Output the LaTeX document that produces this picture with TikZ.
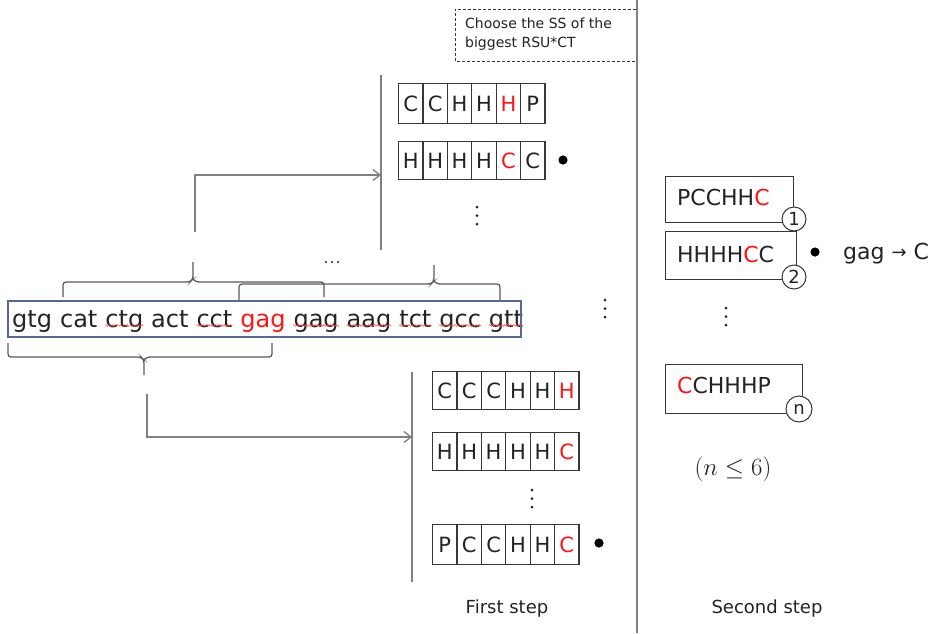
\documentclass[tikz,border=0pt]{standalone}
\usepackage{fontspec}
\setmainfont{DejaVu Sans}
\usetikzlibrary{arrows.meta,decorations.pathmorphing}
\definecolor{lineg}{RGB}{128,128,128}
\definecolor{braceg}{RGB}{90,90,90}
\definecolor{boxk}{RGB}{55,55,55}
\definecolor{seqblue}{RGB}{85,105,150}
\definecolor{txt}{RGB}{35,35,35}
\definecolor{redt}{RGB}{255,20,20}
\newcommand\fsz[1]{\fontsize{#1}{#1}\selectfont}
\newcommand\cellrow[5]{%
  \foreach \l [count=\i] in {#5} {
    \node[cell, minimum height=#4, anchor=north west] (#1c\i) at ({#2+(\i-1)*24.4},#3) {\l};
  }}
\newcommand\vdotsat[2]{\fill[txt] (#1,#2) circle (1.5) (#1,{#2+8.5}) circle (1.5) (#1,{#2+17}) circle (1.5);}
\tikzset{
  cell/.style={draw=boxk, line width=1.2pt, minimum width=24.4pt, inner sep=0pt, text=txt, font=\fsz{21}},
  seqword/.style={inner sep=0pt, anchor=base west, text=txt, font=\fsz{24}},
  sbox/.style={draw=boxk, line width=1.1pt, inner sep=0pt, anchor=north west},
  stext/.style={inner sep=0pt, anchor=base west, text=txt, font=\fsz{22}},
  circ/.style={circle, draw=boxk, line width=1pt, fill=white, minimum size=24pt, inner sep=0pt, text=txt, font=\fsz{18}},
  connector/.style={draw=lineg, line width=1.3pt, -{Straight Barb[length=7pt,width=11pt]}},
  vbar/.style={draw=lineg, line width=1.3pt},
  bracestyle/.style={draw=braceg, line width=1.3pt, rounded corners=3pt},
  squig/.style={draw=redt!80, line width=0.5pt, decorate, decoration={snake, amplitude=0.9pt, segment length=3pt}},
  bullet/.style={fill=black},
  steplabel/.style={inner sep=0pt, text=txt, font=\fsz{18}}
}
\begin{document}
\begin{tikzpicture}[x=1pt,y=-1pt]
\useasboundingbox (0,0) rectangle (946,633);
\fill[white] (0,0) rectangle (946,633);

% divider and dashed note
\coordinate (divtop) at (637,0);
\coordinate (divbot) at (637,633);
\draw[vbar] (divtop) -- (divbot);
\draw[boxk, line width=1pt, dash pattern=on 3pt off 2pt] (636,9) -- (455,9) -- (455,61) -- (636,61);
\node[inner sep=0pt, anchor=base west, text=txt, font=\fsz{14}, align=left] (note1) at (465,28) {Choose the SS of the};
\node[inner sep=0pt, anchor=base west, text=txt, font=\fsz{14}] (note2) at (465,47) {biggest RSU*CT};

% sequence
\node[seqword] (w1) at (12,327) {gtg};
\node[seqword] (w2) at ([xshift=7.6pt]w1.base east) {cat};
\node[seqword] (w3) at ([xshift=7.6pt]w2.base east) {ctg};
\node[seqword] (w4) at ([xshift=7.6pt]w3.base east) {act};
\node[seqword] (w5) at ([xshift=7.6pt]w4.base east) {cct};
\node[seqword, text=redt] (w6) at ([xshift=7.6pt]w5.base east) {gag};
\node[seqword] (w7) at ([xshift=7.6pt]w6.base east) {gag};
\node[seqword] (w8) at ([xshift=7.6pt]w7.base east) {aag};
\node[seqword] (w9) at ([xshift=7.6pt]w8.base east) {tct};
\node[seqword] (w10) at ([xshift=7.6pt]w9.base east) {gcc};
\node[seqword] (w11) at ([xshift=7.6pt]w10.base east) {gtt};
\draw[seqblue, line width=1.1pt] (8,301) rectangle (521,337);
\foreach \w in {w3,w5,w7,w8,w9,w10,w11}
  \draw[squig] ([yshift=1.5pt]\w.base west) -- ([yshift=1.5pt]\w.base east);

% braces
\draw[bracestyle] (63,297) -- (63,282) -- (190,282) -- (193,279) -- (193,262);
\draw[bracestyle] (193,279) -- (196,282) -- (324,282) -- (324,297);
\draw[bracestyle] (239,300) -- (239,284) -- (431,284) -- (434,281) -- (434,265);
\draw[bracestyle] (434,281) -- (437,284) -- (500,284) -- (500,300);
\draw[bracestyle] (8,343) -- (8,357) -- (141,357) -- (144,360) -- (144,375);
\draw[bracestyle] (144,360) -- (147,357) -- (272,357) -- (272,343);
\fill[txt] (326,262) circle (1.1) (332,262) circle (1.1) (338,262) circle (1.1);

% vertical bars of candidate sets
\coordinate (bar1top) at (381,75);
\coordinate (bar1bot) at (381,250);
\coordinate (bar1mid) at (381,175);
\draw[vbar] (bar1top) -- (bar1bot);
\coordinate (bar2top) at (412,372);
\coordinate (bar2bot) at (412,582);
\coordinate (bar2mid) at (412,437);
\draw[vbar] (bar2top) -- (bar2bot);

% connectors
\coordinate (a1start) at (195,232);
\coordinate (a2start) at (147,394);
\draw[connector] (a1start) |- (bar1mid);
\draw[connector] (a2start) |- (bar2mid);

% first-step candidate rows
\cellrow{ta}{398}{83}{40pt}{C,C,H,H,{\color{redt}H},P}
\cellrow{tb}{398}{141}{38pt}{H,H,H,H,{\color{redt}C},C}
\vdotsat{477}{207}
\fill[bullet] (563,160) circle (4.6);

\cellrow{ba}{432}{371}{38pt}{C,C,C,H,H,{\color{redt}H}}
\cellrow{bb}{432}{432}{38pt}{H,H,H,H,H,{\color{redt}C}}
\vdotsat{532}{490}
\cellrow{bc}{432}{524}{40pt}{P,C,C,H,H,{\color{redt}C}}
\fill[bullet] (599,543) circle (4.6);

\vdotsat{605}{300}

% second step
\node[sbox, minimum width=128pt, minimum height=46pt] (s1) at (665,176) {};
\node[stext] (s1t) at (677,205) {PCCHH{\color{redt}C}};
\node[circ] (c1) at (794,219) {1};
\node[sbox, minimum width=131pt, minimum height=48pt] (s2) at (665,231) {};
\node[stext] (s2t) at (677,262) {HHHH{\color{redt}C}C};
\node[circ] (c2) at (794,277) {2};
\fill[bullet] (815,252) circle (4.6);
\node[inner sep=0pt, anchor=base west, text=txt, font=\fsz{22}] (rule) at (843,259) {gag {\fsz{18}\raisebox{1pt}{→}} C};
\vdotsat{726}{308}
\node[sbox, minimum width=137pt, minimum height=49pt] (sn) at (665,364) {};
\node[stext] (snt) at (677,393) {{\color{redt}C}CHHHP};
\node[circ, minimum size=26pt] (cn) at (799,409) {n};
\node[inner sep=0pt, text=txt, font=\fsz{24}] (cond) at (733,469) {$(n\le 6)$};

% step labels
\node[steplabel] (first) at (507,609) {First step};
\node[steplabel] (second) at (767,609) {Second step};
\end{tikzpicture}
\end{document}
